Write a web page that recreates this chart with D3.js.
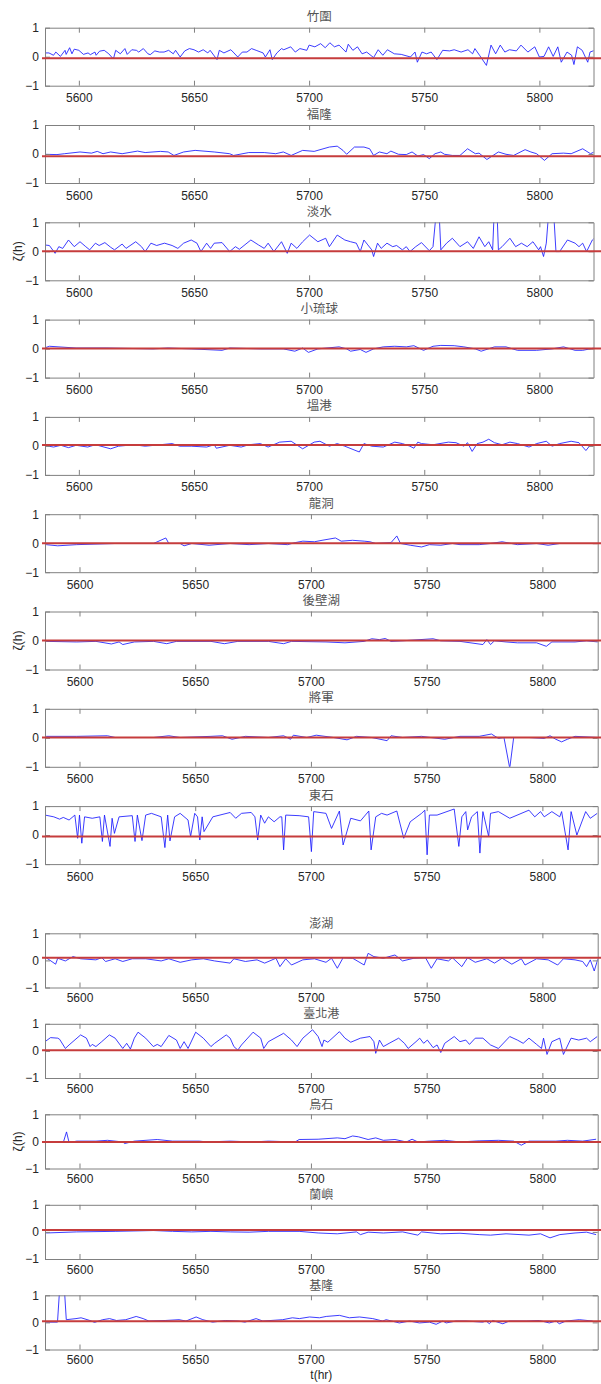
<!DOCTYPE html>
<html><head><meta charset="utf-8">
<script src="https://cdn.jsdelivr.net/npm/d3@7"></script>
<style>
html,body{margin:0;padding:0;background:#fff;}
svg{display:block;}
</style></head>
<body><svg id="chart" width="601" height="1384"></svg>
<script>
// ---- data ----
const stations = ["竹圍","福隆","淡水","小琉球","塭港","龍洞","後壁湖","將軍","東石","澎湖","臺北港","烏石","蘭嶼","基隆"];
const meanLevel = [-0.05,-0.08,0.0,0.0,0.03,0.0,0.0,0.01,-0.05,0.10,0.02,-0.02,0.07,0.04];
const xTicks = [5600,5650,5700,5750,5800];
const yTicks = [-1,0,1];
const yLabel = "ζ(h)";
const xLabel = "t(hr)";

const zhuwei = [[5585,0.13],[5587,0.13],[5589,0.05],[5590,0.16],[5592,0.01],[5594,0.22],[5594.5,0.08],[5596,0.31],[5597,0.1],[5598,0.26],[5600,0.22],[5602,0.08],[5604,0.13],[5605,0.07],[5607,0.16],[5607.5,0.05],[5609,0.19],[5611,0.22],[5613,0.1],[5615,-0.08],[5616,0.22],[5618,0.1],[5620,0.28],[5621,0.08],[5623,0.24],[5625,0.22],[5626,0.16],[5628,0.28],[5630,0.1],[5631,0.07],[5633,0.2],[5635,0.16],[5637,0.16],[5639,0.22],[5641,0.1],[5642,0.22],[5644,-0.01],[5646,0.2],[5648,0.28],[5650,0.24],[5652,0.16],[5654,0.24],[5656,0.13],[5657,0.22],[5660,-0.1],[5661,0.22],[5663,0.13],[5666,0.24],[5667,0.16],[5669,-0.01],[5671,0.16],[5673,0.16],[5675,0.28],[5677,0.22],[5680,0.13],[5681,-0.01],[5683,0.24],[5684,-0.1],[5686,0.13],[5688,0.28],[5689,0.24],[5692,0.34],[5694,0.16],[5696,0.28],[5699,0.22],[5700,0.4],[5702.5,0.34],[5705,0.45],[5707,0.31],[5709,0.48],[5711,0.34],[5713,0.4],[5716,0.16],[5717,0.43],[5719,0.22],[5721,0.34],[5723,0.1],[5725,0.16],[5728,-0.03],[5730,0.24],[5732,0.05],[5734,0.24],[5737,0.1],[5740,0.08],[5744,-0.01],[5746,0.16],[5747,-0.19],[5749,0.16],[5751,0.1],[5753,0.16],[5755.5,-0.1],[5758,0.22],[5761,0.2],[5763,0.24],[5766,0.16],[5769,0.24],[5771,0.1],[5772,0.28],[5774,0.05],[5777,-0.3],[5779,0.4],[5781,0.1],[5783,0.4],[5785,0.16],[5787,0.24],[5790,0.2],[5792,0.4],[5795,0.16],[5798,0.34],[5800,-0.01],[5802,0.01],[5804,0.34],[5806,0.01],[5808,0.34],[5809.5,-0.19],[5812,0.16],[5814,0.05],[5815,-0.27],[5816.5,0.34],[5818.6,0.22],[5821,-0.19],[5822,0.16],[5824,0.22]];
const fulong = [[5585,-0.01],[5590.5,-0.02],[5593.8,0.01],[5600.5,0.07],[5605.5,0.03],[5608,0.09],[5610.5,0.01],[5613.8,0.07],[5618.8,0.01],[5625.5,0.1],[5628.8,0.05],[5635.5,0.09],[5638.8,0.07],[5641.3,-0.05],[5645.5,0.07],[5650.5,0.125],[5658.8,0.07],[5665.5,0.01],[5667.2,-0.05],[5673.8,0.05],[5680.5,0.05],[5685.5,0.01],[5688.8,0.07],[5692.2,-0.05],[5697.2,0.125],[5702.2,0.09],[5708.8,0.24],[5712.2,0.27],[5714.7,0.125],[5716.3,-0.01],[5719.7,0.24],[5723.8,0.24],[5726.3,0.18],[5728,-0.05],[5730.5,0.07],[5733.8,0.01],[5735.5,0.1],[5738.8,-0.01],[5742.2,-0.02],[5744.7,0.07],[5747.2,-0.07],[5749.7,-0.02],[5752.2,-0.16],[5754.7,0.01],[5757.2,0.07],[5758.8,-0.01],[5762.2,-0.05],[5765.5,-0.05],[5768.8,0.18],[5772.2,0.01],[5773.8,0.03],[5777.2,-0.19],[5782.2,0.07],[5785.5,-0.01],[5788.8,-0.05],[5793.8,0.15],[5796.3,0.07],[5798.8,0.01],[5802.2,-0.22],[5805.5,0.01],[5810.5,0.03],[5813.8,0.01],[5818.8,0.18],[5822.2,0.01],[5823.8,0.07]];
const danshui = [[5585,0.22],[5587.2,0.2],[5589.7,-0.07],[5591.3,0.16],[5593,0.1],[5595.5,0.39],[5598,0.16],[5600.5,0.33],[5603,0.16],[5604.7,0.05],[5607.2,0.28],[5608.8,0.2],[5611.3,0.3],[5613.8,0.14],[5615.5,0.05],[5618.8,0.25],[5620.5,0.1],[5624.7,0.33],[5627.2,0.16],[5628.8,-0.01],[5631.3,0.28],[5633.8,0.2],[5637.2,0.28],[5640.5,0.2],[5643,0.1],[5645.5,0.28],[5648.8,0.39],[5651.3,0.28],[5653,-0.01],[5655.5,0.28],[5657.2,0.1],[5658.8,0.28],[5662.2,0.3],[5665.5,-0.01],[5668,0.16],[5669.7,0.07],[5674.7,0.39],[5678,0.22],[5680.5,0.1],[5682.2,0.28],[5684.7,-0.01],[5688,0.33],[5690.5,-0.07],[5692.2,0.28],[5694.7,0.1],[5697.2,0.33],[5700.2,0.56],[5703.8,0.33],[5707.2,0.45],[5708.8,0.16],[5712.2,0.56],[5715.5,0.39],[5718,0.33],[5720.5,0.28],[5722.2,-0.01],[5723.8,0.39],[5725.5,0.22],[5727.2,0.05],[5728,-0.18],[5729.7,0.28],[5731.3,0.1],[5733.8,0.28],[5736.3,0.16],[5738,0.2],[5740.5,0.05],[5742.2,0.16],[5743.8,-0.01],[5746.3,0.16],[5748.8,0.3],[5752.2,0.02],[5753.8,0.16],[5755.5,1.6],[5756.3,1.6],[5757.2,0.05],[5759.7,0.28],[5762.2,0.45],[5765.5,0.16],[5768.8,0.33],[5771.3,0.1],[5773.8,0.5],[5776.3,0.16],[5778,0.33],[5779.7,0.05],[5780.5,1.6],[5781.5,1.6],[5782.2,0.05],[5783.8,0.16],[5787.2,0.45],[5789.7,0.16],[5792.2,0.28],[5794.7,0.16],[5797.2,0.33],[5799.7,0.05],[5800.5,0.16],[5801.8,-0.18],[5803,0.28],[5804.3,1.6],[5806,1.6],[5807.2,-0.01],[5808.8,-0.01],[5812.2,0.39],[5815.5,0.28],[5817.2,0.16],[5818.8,0.28],[5820.5,-0.01],[5823,0.39],[5823.8,0.45]];
const xiaoliuqiu = [[5585,0.02],[5587.2,0.08],[5598.8,0.02],[5612.2,0.02],[5632.2,-0.01],[5638.8,0.02],[5648.8,-0.01],[5662.2,-0.06],[5665.5,0.02],[5678.8,-0.01],[5688.8,-0.01],[5693.8,-0.09],[5697.2,0.02],[5699.7,-0.13],[5703.8,-0.01],[5713,0.06],[5716.3,-0.01],[5718,-0.09],[5722.2,-0.03],[5724.7,-0.13],[5728,-0.01],[5732.2,0.06],[5737.2,0.08],[5742.2,0.06],[5745.5,0.1],[5749.7,-0.06],[5753.8,0.08],[5757.2,0.11],[5763,0.1],[5767.2,0.06],[5772.2,-0.01],[5774.7,-0.09],[5780.5,0.06],[5785.5,0.06],[5790.5,-0.06],[5798.8,-0.06],[5805.5,-0.01],[5810.5,0.06],[5815.5,-0.06],[5818.8,-0.06],[5823.8,0.02]];
const wengang = [[5585,0.02],[5589,-0.04],[5592.2,0.02],[5595.5,-0.06],[5598.8,0.02],[5603.8,-0.04],[5607.2,0.04],[5613.8,-0.1],[5617.2,-0.01],[5623.8,0.04],[5628.8,-0.01],[5640.5,0.08],[5643.8,-0.01],[5648.8,-0.01],[5655.5,-0.04],[5658.8,0.04],[5659.7,-0.08],[5665.5,0.02],[5670.5,-0.04],[5673.8,0.04],[5678.8,0.08],[5682.2,-0.04],[5687.2,0.13],[5692.2,0.16],[5697.2,-0.1],[5702.2,0.13],[5704.7,0.16],[5708.8,-0.01],[5712.2,0.08],[5715.5,-0.01],[5721.8,-0.21],[5723.8,0.08],[5727.2,-0.01],[5732.2,-0.04],[5737.2,0.13],[5740.5,0.08],[5743.8,-0.01],[5745.5,-0.08],[5747.2,0.13],[5748.8,0.08],[5753.8,0.04],[5760.5,0.13],[5763.8,0.11],[5767.2,-0.01],[5768.8,0.11],[5770.8,-0.19],[5773,0.08],[5775.5,0.13],[5778,0.23],[5780.5,0.11],[5783.8,0.04],[5787.2,0.13],[5790.5,0.08],[5795.5,-0.04],[5798.8,0.08],[5803,0.16],[5805.5,-0.01],[5808.8,0.08],[5813.8,0.16],[5817.2,0.11],[5820.2,-0.16],[5822.2,0.04],[5823.8,0.02]];
const longdong = [[5585.6,-0.05],[5590.6,-0.09],[5598.8,-0.05],[5615.4,-0.01],[5632,-0.01],[5637.3,0.18],[5638.6,-0.01],[5643.5,-0.01],[5645.2,-0.09],[5648.5,-0.01],[5656,-0.07],[5665.1,-0.01],[5673.3,-0.05],[5681.6,-0.01],[5689.9,-0.05],[5693.2,0.02],[5696.5,0.07],[5701.5,0.05],[5704.8,0.1],[5710.6,0.18],[5713.1,0.07],[5718,0.1],[5723,0.07],[5725.5,0.05],[5728,-0.01],[5734.6,0.02],[5737.1,0.25],[5738.7,-0.01],[5742.9,-0.07],[5747.8,-0.13],[5751.2,-0.05],[5756.1,-0.07],[5761.1,-0.01],[5764.4,-0.05],[5772.7,-0.05],[5777.6,-0.01],[5782.6,0.05],[5789.2,-0.05],[5797.5,-0.01],[5802.5,-0.07],[5807.5,-0.01],[5814.1,-0.01],[5824,-0.01]];
const houbihu = [[5585.6,-0.03],[5598.8,-0.05],[5607.1,-0.03],[5613.8,-0.12],[5617.1,-0.05],[5618.7,-0.14],[5623.7,-0.05],[5632,-0.03],[5637.7,-0.11],[5641.9,-0.03],[5656.8,-0.03],[5662.6,-0.11],[5668.4,-0.03],[5681.6,-0.03],[5688.2,-0.11],[5691.6,-0.03],[5706.5,-0.05],[5714.7,-0.08],[5723,-0.03],[5726.3,0.06],[5729.6,0.03],[5732.1,0.07],[5734.6,-0.03],[5739.6,-0.01],[5752.8,0.06],[5756.1,-0.01],[5764.4,-0.03],[5774.3,-0.14],[5776,0.03],[5777.6,-0.14],[5779.3,-0.01],[5784.3,-0.05],[5789.2,-0.08],[5797.5,-0.08],[5801.7,-0.2],[5804.1,-0.05],[5814.1,-0.05],[5819.1,-0.01],[5824,-0.05]];
const jiangjun = [[5585.6,0.05],[5598.8,0.05],[5612.1,0.07],[5615.4,0.01],[5632,0.01],[5638.6,0.07],[5643.5,0.01],[5656.8,0.05],[5661.8,0.07],[5665.9,-0.05],[5671.7,0.05],[5681.6,0.01],[5688.2,0.07],[5691.2,-0.05],[5692.4,0.09],[5698.2,0.01],[5702.3,0.09],[5709.8,0.01],[5715.6,-0.07],[5719.7,0.05],[5726.3,0.01],[5732.9,-0.1],[5734.6,0.07],[5739.6,0.01],[5747.8,0.05],[5757.8,-0.05],[5764.4,0.05],[5772.7,0.05],[5778,0.13],[5781,-0.02],[5783.4,0.01],[5785.9,-1.05],[5787.6,0.01],[5794.2,0.01],[5800.8,-0.02],[5803.3,0.07],[5805.8,-0.05],[5808.3,-0.14],[5810.8,-0.05],[5814.1,0.05],[5824,0.01]];
const dongshi = [[5585.1,0.69],[5588.9,0.63],[5591.4,0.55],[5593,0.61],[5595.5,0.52],[5598,0.69],[5599.2,-0.11],[5600,0.69],[5601,-0.28],[5602.2,0.63],[5605.5,0.58],[5608.8,0.63],[5609.9,-0.22],[5610.8,0.69],[5613.2,-0.39],[5614.1,0.58],[5615.1,0.06],[5617.1,0.63],[5622.8,0.67],[5624,-0.22],[5625,0.69],[5627,-0.19],[5628.6,0.69],[5631.1,0.75],[5635.3,0.63],[5636.9,-0.43],[5638.1,0.69],[5639.1,-0.2],[5641.1,0.63],[5643.5,0.75],[5646.9,0.52],[5648,-0.05],[5649.8,0.75],[5651,0.63],[5652,-0.17],[5653,0.63],[5653.8,0.12],[5657.6,0.63],[5665.1,0.78],[5667.5,0.58],[5670,0.75],[5674.2,0.78],[5675.8,0.63],[5677,-0.17],[5678.3,0.69],[5680,0.41],[5681.6,0.63],[5684.1,0.46],[5686.6,0.63],[5687.4,0.63],[5688.2,-0.51],[5689.1,0.69],[5694.9,0.67],[5699,0.63],[5700.2,-0.57],[5701.2,0.81],[5706.5,0.75],[5708.9,0.23],[5712.3,0.83],[5713.9,-0.34],[5717.2,0.58],[5721.4,0.49],[5725,0.83],[5726,-0.51],[5728,0.63],[5730.5,0.75],[5732.9,0.69],[5737.1,0.83],[5740.1,-0.11],[5742.9,0.46],[5747.8,0.75],[5749.2,0.86],[5750.2,-0.68],[5751.2,0.69],[5754.5,0.69],[5761.9,0.9],[5763.9,-0.39],[5765.2,0.63],[5766.9,0.81],[5767.7,0.18],[5769.4,0.63],[5771.9,0.81],[5773,-0.62],[5774.3,0.81],[5776.8,-0.05],[5777.6,0.75],[5781,0.81],[5785.9,0.58],[5794.2,0.86],[5796.7,0.63],[5799.2,0.81],[5800.8,0.63],[5804.1,0.81],[5807.5,0.63],[5808.3,0.81],[5811.1,-0.51],[5812.4,0.81],[5814.9,0],[5818.7,0.81],[5820.7,0.58],[5823.7,0.75]];
const penghu = [[5585.6,0.1],[5589.7,-0.14],[5590.6,0.08],[5593.9,-0.02],[5597.2,0.14],[5600.5,0.06],[5607.1,0.02],[5609.6,0.1],[5611.3,-0.04],[5615.4,0.06],[5618.7,-0.04],[5622.8,0.06],[5628.6,0.06],[5635.3,-0.02],[5638.6,0.06],[5643.5,-0.07],[5648.5,0.02],[5653.5,0.06],[5658.4,-0.02],[5665.1,-0.1],[5666.7,0.06],[5671.7,-0.04],[5676.7,0.02],[5680,-0.1],[5684.9,0.08],[5686.6,-0.23],[5689.1,0.06],[5691.6,-0.17],[5696.5,0.02],[5701.5,0.06],[5706.5,-0.07],[5708.9,0.08],[5711.4,-0.29],[5713.9,0.1],[5718,0.08],[5723,-0.17],[5724.7,0.26],[5727.2,0.14],[5731.3,0.08],[5736.3,0.2],[5739.6,-0.02],[5744.5,0.08],[5749.5,0.1],[5752,-0.29],[5754.5,0.06],[5759.4,-0.02],[5761.1,0.1],[5765.2,-0.23],[5767.7,0.1],[5771,-0.07],[5776,0.06],[5779.3,-0.1],[5782.6,0.08],[5786.8,-0.14],[5790.9,0.06],[5792.5,-0.17],[5797.5,0.06],[5802.5,0.02],[5806.6,-0.17],[5809.1,0.06],[5814.1,0.02],[5817.4,-0.04],[5819.1,-0.23],[5820.7,0.02],[5822.4,-0.39],[5824,0.06]];
const taipeiPort = [[5585.1,0.34],[5587.5,0.49],[5590.6,0.47],[5591.4,0.43],[5593.9,0.09],[5595.5,0.22],[5600.5,0.59],[5603,0.47],[5604.6,0.16],[5605.5,0.24],[5607.1,0.16],[5609.6,0.34],[5612.9,0.59],[5615.4,0.47],[5618.7,0.09],[5620.4,0.28],[5622,0.07],[5623.7,0.47],[5625.3,0.69],[5628.6,0.47],[5631.9,0.16],[5633.6,0.24],[5635.3,0.16],[5638.6,0.57],[5641.9,0.4],[5643.5,0.09],[5645.2,0.34],[5646.9,0.09],[5650.2,0.69],[5653.5,0.47],[5656.8,0.16],[5658.4,0.28],[5663.4,0.59],[5665.1,0.47],[5666.7,0.16],[5668.4,0.03],[5670,0.22],[5675,0.69],[5678.3,0.47],[5679.6,0.09],[5681.6,0.34],[5688.2,0.65],[5691.6,0.4],[5694,0.16],[5696.5,0.47],[5700.7,0.78],[5703.1,0.53],[5704.8,0.16],[5705.6,0.4],[5707.3,0.32],[5712.3,0.71],[5714.7,0.47],[5717.2,0.32],[5721.4,0.47],[5725.5,0.53],[5727.2,0.34],[5728,-0.09],[5729.6,0.4],[5731.3,0.16],[5733.8,0.28],[5737.9,0.47],[5740.4,0.28],[5742,0.09],[5745.4,0.34],[5747,0.47],[5748.7,0.28],[5750.3,0.4],[5752.8,0.12],[5754.5,0.22],[5756.1,-0.06],[5757.8,0.28],[5761.9,0.53],[5764.4,0.34],[5766.9,0.4],[5768.5,0.24],[5771,0.47],[5774.3,0.47],[5777.6,0.22],[5781,0.09],[5785.9,0.53],[5789.2,0.4],[5791.7,0.28],[5794.2,0.47],[5797.5,0.24],[5799.6,0.09],[5800.5,0.47],[5802,-0.13],[5804.1,0.34],[5807.5,0.47],[5809.1,-0.13],[5812.4,0.47],[5815.7,0.4],[5819.1,0.47],[5820.7,0.34],[5823.7,0.53]];
const wushi = [[5585.6,-0.02],[5593,-0.04],[5594.4,0.35],[5595.5,-0.04],[5598.8,0.01],[5607.1,0.01],[5612.1,0.04],[5618.7,-0.02],[5619.5,-0.08],[5623.7,0.01],[5633.6,0.07],[5640.2,0.01],[5651.8,0.01],[5655.1,-0.02],[5665.1,0.01],[5675,-0.02],[5681.6,0.01],[5693.2,-0.02],[5694.9,0.07],[5703.1,0.08],[5711.4,0.13],[5714.7,0.1],[5718,0.2],[5720.5,0.17],[5724.7,0.07],[5728,0.13],[5731.3,0.04],[5736.3,0.07],[5741.2,-0.02],[5743.7,0.08],[5746.2,-0.02],[5751.2,0.01],[5757.8,0.04],[5764.4,-0.02],[5772.7,0.02],[5781,0.04],[5787.6,0.01],[5790.9,-0.14],[5794.2,0.01],[5805.8,0.01],[5810.8,0.04],[5817.4,0.01],[5823.2,0.08]];
const lanyu = [[5585.6,-0.04],[5598.8,0],[5615.4,0.02],[5632,0.05],[5640.2,0.02],[5648.5,0],[5656.8,0.02],[5665.1,0],[5673.3,-0.01],[5681.6,0.02],[5694.9,0.02],[5703.1,-0.04],[5711.4,-0.07],[5719.7,0],[5721.4,-0.1],[5724.7,-0.01],[5731.3,-0.04],[5739.6,0],[5746.2,-0.12],[5747.8,0],[5756.1,-0.07],[5764.4,-0.05],[5772.7,-0.1],[5777.6,-0.12],[5784.3,-0.07],[5794.2,-0.12],[5799.2,-0.07],[5803.3,-0.22],[5807.5,-0.1],[5814.1,-0.04],[5819.1,-0.01],[5823.2,-0.1]];
const keelung = [[5585.6,0.01],[5590.5,0.01],[5591.4,1.2],[5593.5,1.2],[5594.3,0.1],[5598.5,0.14],[5600.7,0.17],[5604.5,0.07],[5606.5,0],[5610,0.1],[5613,0.14],[5616,0.07],[5620,0.1],[5624.5,0.22],[5627.5,0.14],[5630,0.05],[5637,0.07],[5643,0.1],[5646,0.05],[5650.4,0.2],[5653.3,0.1],[5657.5,0.01],[5663,0.07],[5668.6,0.05],[5671.5,0.01],[5676.3,0.14],[5679.2,0.05],[5687.8,0.1],[5692,0.17],[5695,0.14],[5699.4,0.2],[5703.7,0.17],[5706.6,0.22],[5712.3,0.26],[5716.6,0.17],[5721,0.2],[5726.7,0.14],[5731,0.05],[5732.5,0.1],[5738.2,-0.02],[5742.6,0.05],[5746.9,-0.02],[5751.2,0.01],[5754.1,-0.07],[5757,0.05],[5758.4,-0.02],[5762.7,0.05],[5767,0.05],[5774.2,0.01],[5775.7,0.05],[5777.1,-0.05],[5778.5,0.07],[5782.9,-0.05],[5785.7,0.05],[5793,0.05],[5798.7,0.07],[5803,-0.02],[5805.9,0.05],[5807.3,-0.05],[5810.2,0.05],[5816,0.1],[5821.7,0.05]];

const series = [zhuwei,fulong,danshui,xiaoliuqiu,wengang,longdong,houbihu,jiangjun,dongshi,penghu,taipeiPort,wushi,lanyu,keelung];

// ---- layout ----
const W = 601;
function panelBox(i){
  if (i < 9) {
    return {top: 27.7 + i*97.3, h: 58, left: 45, right: i < 5 ? 593.5 : 597.7,
            dom: i < 5 ? [5585.3,5823.5] : [5585.1,5823.9], pad: 8, tOff: 6.5, tSize: 12.5};
  }
  const j = i - 9;
  return {top: 933.3 + j*90.5, h: 54.2, left: 45, right: 597.7, dom: [5585.1,5823.9],
          pad: 6, tOff: 5.5, tSize: 12};
}

const svg = d3.select("#chart");
svg.append("rect").attr("width",601).attr("height",1384).attr("fill","#fff");

const axisColor = "#808080";
const textColor = "#262626";

stations.forEach((name, i) => {
  const b = panelBox(i);
  const x = d3.scaleLinear().domain(b.dom).range([b.left, b.right]);
  const y = d3.scaleLinear().domain([-1,1]).range([b.top + b.h, b.top]);
  const g = svg.append("g");

  const cid = "clip" + i;
  svg.append("clipPath").attr("id", cid).append("rect")
    .attr("x", b.left).attr("y", b.top).attr("width", b.right - b.left).attr("height", b.h);

  g.append("path")
    .datum(series[i])
    .attr("clip-path", `url(#${cid})`)
    .attr("fill", "none")
    .attr("stroke", "#1a1aff")
    .attr("stroke-width", 0.85)
    .attr("stroke-linejoin", "round")
    .attr("d", d3.line().x(d => x(d[0])).y(d => y(d[1])));

  const styleAxis = (sel, showText) => {
    sel.select(".domain").attr("stroke", axisColor).attr("stroke-width", 1);
    sel.selectAll(".tick line").attr("stroke", axisColor).attr("stroke-width", 1);
    sel.selectAll(".tick text").attr("fill", textColor)
      .style("font-family", "'Liberation Sans', Arial, sans-serif").style("font-size", "12px");
    if (!showText) sel.selectAll(".tick text").remove();
  };
  g.append("g").attr("transform", `translate(0,${b.top + b.h})`)
    .call(d3.axisBottom(x).tickValues(xTicks).tickSize(-5).tickSizeOuter(0).tickPadding(b.pad).tickFormat(d3.format("d")))
    .call(s => styleAxis(s, true));
  g.append("g").attr("transform", `translate(0,${b.top})`)
    .call(d3.axisTop(x).tickValues(xTicks).tickSize(-5).tickSizeOuter(0))
    .call(s => styleAxis(s, false));
  g.append("g").attr("transform", `translate(${b.left},0)`)
    .call(d3.axisLeft(y).tickValues(yTicks).tickSize(-5).tickSizeOuter(0).tickPadding(6).tickFormat(d3.format("d")))
    .call(s => styleAxis(s, true));
  g.append("g").attr("transform", `translate(${b.right},0)`)
    .call(d3.axisRight(y).tickValues(yTicks).tickSize(-5).tickSizeOuter(0))
    .call(s => styleAxis(s, false));

  g.append("line")
    .attr("x1", b.left - 3).attr("x2", W)
    .attr("y1", y(meanLevel[i])).attr("y2", y(meanLevel[i]))
    .attr("stroke", "#c63c3c").attr("stroke-width", 2);

  g.append("text")
    .attr("x", (b.left + b.right) / 2).attr("y", b.top - b.tOff)
    .attr("text-anchor", "middle")
    .attr("fill", "#555")
    .style("font-family", "'Noto Sans CJK TC', 'Noto Sans CJK SC', sans-serif")
    .style("font-size", b.tSize + "px")
    .text(name);

  if (i === 2 || i === 6 || i === 11) {
    g.append("text")
      .attr("transform", `translate(22,${b.top + b.h / 2}) rotate(-90)`)
      .attr("text-anchor", "middle")
      .attr("fill", textColor)
      .style("font-family", "'Liberation Sans', Arial, sans-serif")
      .style("font-size", "12px")
      .text(yLabel);
  }
  if (i === stations.length - 1) {
    g.append("text")
      .attr("x", (b.left + b.right) / 2).attr("y", b.top + b.h + 29)
      .attr("text-anchor", "middle")
      .attr("fill", textColor)
      .style("font-family", "'Liberation Sans', Arial, sans-serif")
      .style("font-size", "12px")
      .text(xLabel);
  }
});
</script></body></html>
